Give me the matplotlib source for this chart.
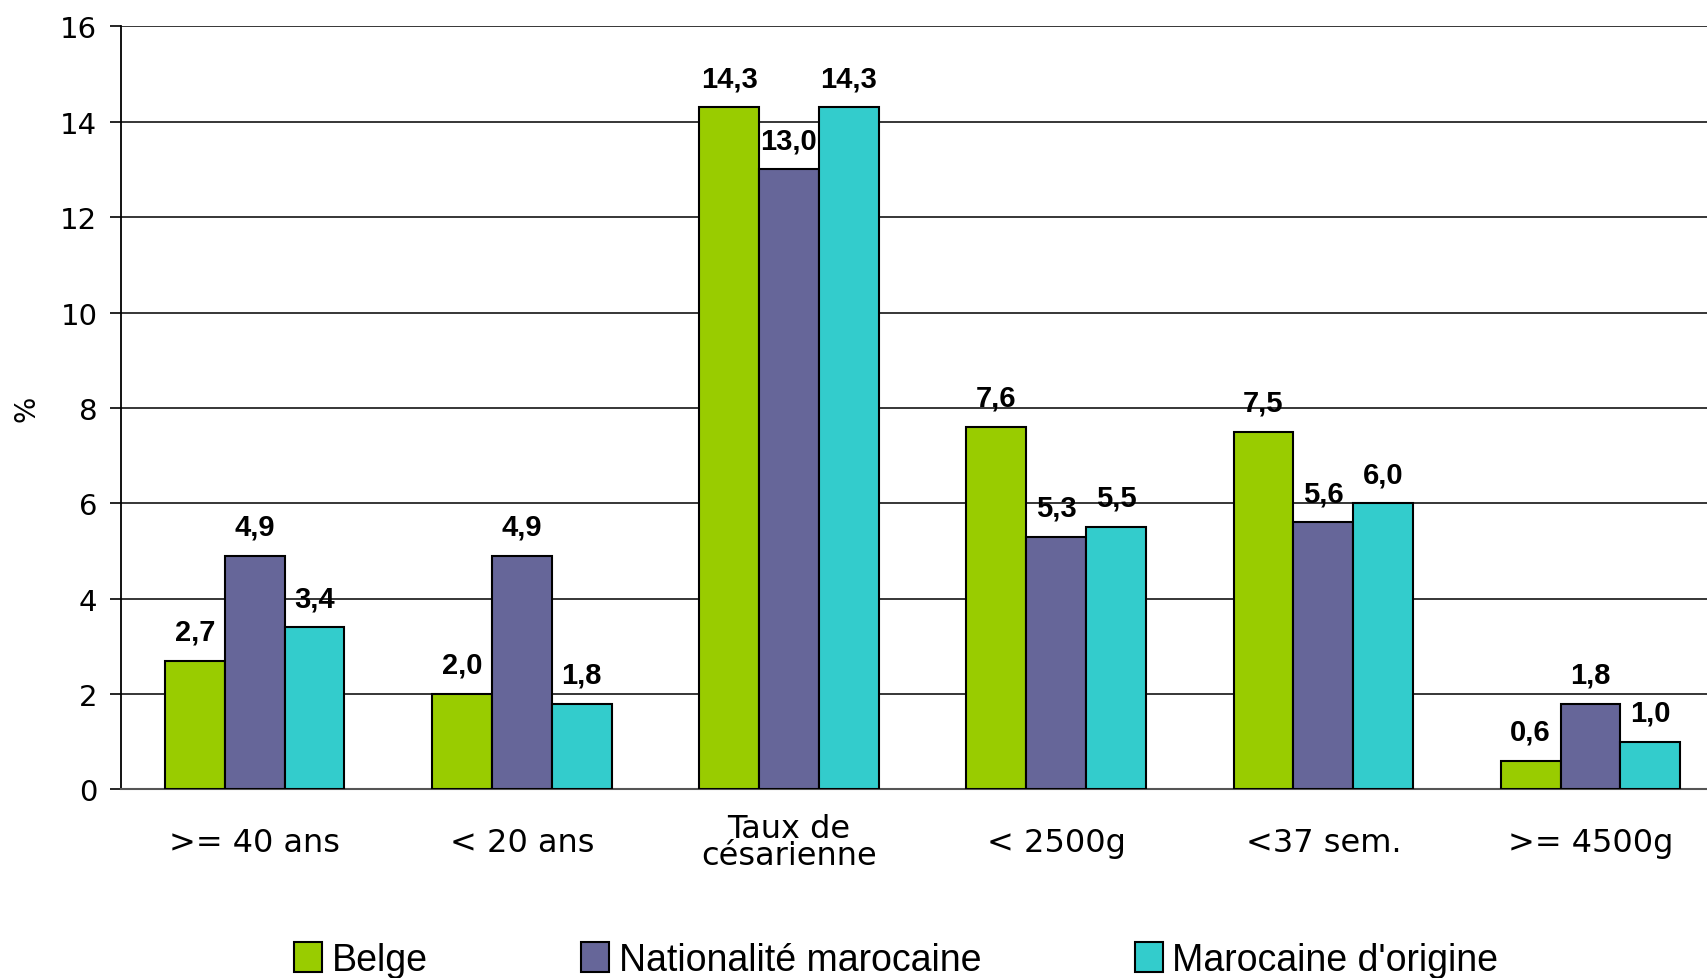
import matplotlib.pyplot as plt
import numpy as np

categories = ['>= 40 ans', '< 20 ans', 'Taux de\ncésarienne',
              '< 2500g', '<37 sem.', '>= 4500g']
belge = [2.7, 2.0, 14.3, 7.6, 7.5, 0.6]
nat_marocaine = [4.9, 4.9, 13.0, 5.3, 5.6, 1.8]
marocaine_origine = [3.4, 1.8, 14.3, 5.5, 6.0, 1.0]
series_names = ['Belge', 'Nationalité marocaine', "Marocaine d'origine"]
colors = ['#99CC00', '#666699', '#33CCCC']

fig = plt.figure(figsize=(17.07, 9.79), dpi=100)
ax = fig.add_axes([0.0709, 0.1926, 0.9291, 0.7794])

x = np.arange(len(categories))
width = 0.224
series = [belge, nat_marocaine, marocaine_origine]
for i, (vals, name, col) in enumerate(zip(series, series_names, colors)):
    pos = x + (i - 1) * width
    bars = ax.bar(pos, vals, width, color=col, edgecolor='black',
                  linewidth=1.5, label=name, zorder=3)
    for b, v in zip(bars, vals):
        ax.annotate(('%.1f' % v).replace('.', ','),
                    (b.get_x() + b.get_width() / 2, v),
                    xytext=(0, 11), textcoords='offset points',
                    ha='center', va='bottom', fontsize=21,
                    fontweight='bold', family='Liberation Sans')

ax.set_ylim(0, 16)
ax.set_yticks(range(0, 17, 2))
ax.set_xlim(-0.5, 5.436)
ax.set_xticks(x)
ax.set_xticklabels(categories, fontsize=23, linespacing=0.85, va='center')
ax.tick_params(axis='x', length=0, pad=38)
ax.tick_params(axis='y', labelsize=21, length=8, width=1.2,
               direction='out', pad=9)
ax.yaxis.grid(True, color='black', linewidth=1.1, zorder=0)
ax.set_axisbelow(True)
ax.spines['right'].set_visible(False)
ax.spines['top'].set_visible(False)
ax.spines['left'].set_linewidth(1.3)
ax.spines['bottom'].set_color('#555555')
ax.spines['bottom'].set_linewidth(1.5)
ax.set_ylabel('%', fontsize=20, labelpad=14)

fig.legend(loc='lower center', bbox_to_anchor=(0.525, -0.034), ncol=3,
           frameon=False, handlelength=0.75, handleheight=0.85,
           handletextpad=0.25, columnspacing=4.1,
           prop={'family': 'Liberation Sans', 'size': 27})

plt.savefig('out.png', dpi=100)
